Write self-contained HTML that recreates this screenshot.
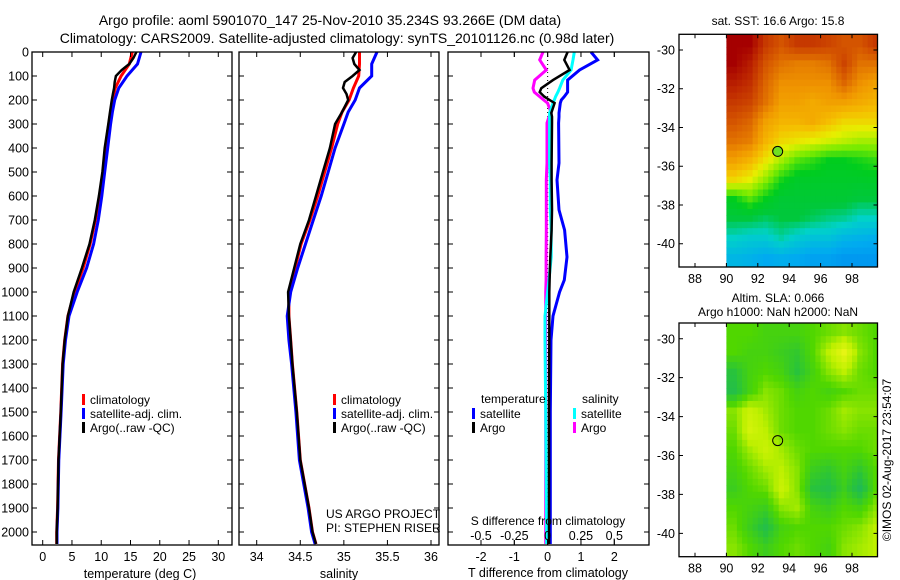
<!DOCTYPE html>
<html><head><meta charset="utf-8">
<style>
html,body{margin:0;padding:0;background:#fff;}
svg{display:block;font-family:"Liberation Sans",sans-serif;}
text{fill:#000;}
</style></head>
<body>
<svg id="chart" width="900" height="580" viewBox="0 0 900 580" xmlns="http://www.w3.org/2000/svg">
<text x="330" y="25" font-size="14" text-anchor="middle">Argo profile: aoml 5901070_147 25-Nov-2010 35.234S 93.266E (DM data)</text>
<text x="337" y="43" font-size="14" text-anchor="middle">Climatology: CARS2009. Satellite-adjusted climatology: synTS_20101126.nc (0.98d later)</text>
<g id="p1"></g>
<g id="p2"></g>
<g id="p3"></g>
<g id="m1"></g>
<g id="m2"></g>
<text transform="translate(891,460) rotate(-90)" font-size="12" text-anchor="middle">©IMOS 02-Aug-2017 23:54:07</text>
</svg>
<script>
// ---------- data ----------
const depthTicks = [0,100,200,300,400,500,600,700,800,900,1000,1100,1200,1300,1400,1500,1600,1700,1800,1900,2000];
const tempTicks = [0,5,10,15,20,25,30];
const salTicks = [34,34.5,35,35.5,36];
const salTickLabels = ["34","34.5","35","35.5","36"];
const tdiffTicks = [-2,-1,0,1,2];
const sdiffTicks = [-0.5,-0.25,0,0.25,0.5];
const sdiffTickLabels = ["-0.5","-0.25","0","0.25","0.5"];

const climDepth = [0,50,100,150,200,250,300,400,500,600,700,800,900,1000,1100,1200,1300,1500,1700,1900,2000,2050];
const climTemp  = [15.3,14.8,13.4,12.4,11.9,11.6,11.3,10.7,10.3,9.7,9.0,8.1,6.9,5.45,4.3,3.75,3.4,3.1,2.7,2.55,2.4,2.4];
const satTemp   = [16.8,16.2,14.4,13.0,12.3,11.9,11.6,11.1,10.6,10.1,9.5,8.7,7.5,5.9,4.5,3.9,3.5,3.15,2.75,2.6,2.45,2.45];
const climSal   = [35.18,35.18,35.17,35.11,35.06,34.98,34.93,34.86,34.78,34.70,34.61,34.51,34.44,34.37,34.37,34.39,34.41,34.46,34.50,34.60,34.64,34.68];
const satSal    = [35.38,35.32,35.32,35.18,35.13,35.05,35.00,34.90,34.82,34.74,34.65,34.56,34.47,34.39,34.35,34.37,34.40,34.45,34.49,34.59,34.63,34.67];

const argoDepth = [0,25,50,75,100,125,150,175,200,250,300,400,500,600,700,800,900,1000,1100,1200,1300,1500,1700,1900,2000,2050];
const argoTemp  = [16.0,15.5,14.8,13.5,12.5,12.3,12.2,12.0,11.8,11.5,11.2,10.6,10.2,9.6,8.9,8.0,6.7,5.3,4.3,3.75,3.4,3.1,2.7,2.55,2.4,2.4];
const argoSal   = [35.14,35.10,35.12,35.18,35.10,35.01,34.99,35.03,35.05,34.98,34.90,34.84,34.76,34.68,34.60,34.50,34.43,34.36,34.37,34.39,34.41,34.46,34.50,34.60,34.64,34.68];

const diffDepth = [0,33,75,117,151,167,186,200,213,254,270,296,463,533,658,742,854,950,1000,1100,1200,1500,2000,2050];
const tdiffSat  = [1.3,1.5,0.96,0.6,0.6,0.6,0.5,0.41,0.38,0.34,0.34,0.33,0.34,0.28,0.34,0.51,0.58,0.5,0.36,0.16,0.1,0.08,0.08,0.08];
const tdiffArgo = [0.6,0.5,0.66,0.16,-0.19,-0.24,-0.1,0.06,0.21,0.11,0.13,0.13,0.12,0.12,0.13,0.12,0.08,0.06,0.05,0.05,0.05,0.04,0.04,0.04];
const sdiffSat  = [0.2,0.19,0.176,0.114,0.09,0.077,0.06,0.05,0.04,0.015,0.015,0.015,0.015,0.02,0.02,0.027,0.027,0.01,0.0,-0.02,-0.02,-0.015,-0.008,-0.008];
const sdiffArgo = [-0.035,-0.06,-0.01,-0.097,-0.11,-0.1,-0.06,-0.03,0.0,0.027,0.01,-0.005,-0.005,-0.01,-0.01,-0.01,-0.012,-0.012,-0.015,-0.015,-0.015,-0.015,-0.015,-0.015];

const lonTicks = [88,90,92,94,96,98];
const latTicks = [-30,-32,-34,-36,-38,-40];
const mapLons = [90,91,92,93,94,95,96,97,98,99];
const mapLats = [-29.2,-30.2,-31.2,-32.2,-33.2,-34.2,-35.2,-36.2,-37.2,-38.2,-39.2,-40.2];
const sstGrid = [
[1.0,1.0,0.9,0.85,0.9,0.9,0.88,0.85,0.85,0.9],
[1.0,0.95,0.85,0.8,0.78,0.78,0.8,0.88,0.8,0.8],
[0.95,0.92,0.82,0.75,0.75,0.75,0.75,0.82,0.75,0.72],
[0.9,0.88,0.8,0.72,0.72,0.7,0.72,0.72,0.7,0.68],
[0.85,0.82,0.72,0.68,0.68,0.7,0.66,0.62,0.62,0.62],
[0.8,0.78,0.68,0.62,0.6,0.58,0.56,0.54,0.52,0.52],
[0.72,0.68,0.6,0.52,0.45,0.42,0.38,0.38,0.4,0.42],
[0.62,0.58,0.5,0.4,0.35,0.35,0.35,0.35,0.35,0.36],
[0.38,0.45,0.38,0.32,0.32,0.32,0.32,0.32,0.3,0.3],
[0.3,0.3,0.28,0.3,0.3,0.28,0.26,0.25,0.22,0.22],
[0.22,0.2,0.2,0.24,0.2,0.18,0.18,0.15,0.14,0.13],
[0.15,0.14,0.12,0.13,0.12,0.1,0.1,0.08,0.08,0.08]];
const slaGrid = [
[.5,.5,.45,.45,.45,.5,.55,.6,.55,.5],
[.5,.45,.45,.4,.35,.5,.7,.9,.6,.5],
[.3,.45,.5,.45,.3,.45,.6,.7,.55,.5],
[.25,.45,.6,.55,.45,.5,.45,.5,.55,.55],
[.6,.75,.65,.55,.5,.5,.55,.65,.6,.6],
[.55,.8,.7,.55,.5,.5,.55,.6,.55,.55],
[.5,.65,.75,.65,.55,.5,.5,.5,.5,.55],
[.45,.55,.65,.7,.6,.4,.35,.45,.35,.5],
[.4,.5,.55,.75,.6,.3,.25,.4,.2,.5],
[.5,.45,.4,.6,.65,.45,.4,.5,.45,.6],
[.55,.4,.25,.45,.5,.5,.5,.55,.6,.7],
[.6,.5,.4,.5,.55,.5,.45,.6,.65,.7]];
const floatLon = 93.266, floatLat = -35.234;

// ---------- helpers ----------
const NS = "http://www.w3.org/2000/svg";
function mk(parent, tag, attrs){ const e=document.createElementNS(NS,tag); for(const k in attrs) e.setAttribute(k,attrs[k]); parent.appendChild(e); return e; }
function lin(d0,d1,r0,r1){ return v => r0 + (v-d0)*(r1-r0)/(d1-d0); }
const TOP=52, BOT=545;
const yD = lin(0,2054,TOP,BOT);

function frame(g,x0,x1,y0,y1,name){
  const r=mk(g,'rect',{x:x0,y:y0,width:x1-x0,height:y1-y0,fill:'none',stroke:'#000','stroke-width':1.3});
  
  
}
function depthTicksDraw(g,x0,x1,labels){
  depthTicks.forEach(d=>{
    const y=yD(d);
    const t=mk(g,'path',{d:`M${x0},${y}h5M${x1},${y}h-5`,stroke:'#000','stroke-width':1});
    
    
    if(labels){
      const tx=mk(g,'text',{x:x0-3,y:y+4.5,'font-size':12.5,'text-anchor':'end'});
      tx.textContent=d;
      
      
    }
  });
}
function xTicksDraw(g,ticks,labels,sx,yb,yt,ly){
  ticks.forEach((v,i)=>{
    const x=sx(v);
    const t=mk(g,'path',{d:`M${x},${yb}v-5M${x},${yt}v5`,stroke:'#000','stroke-width':1});
    
    
    if(ly!==null){
      const tx=mk(g,'text',{x:x,y:ly,'font-size':12.5,'text-anchor':'middle'});
      tx.textContent=labels[i];
      
      
    }
  });
}
function line(g,xs,ds,sx,color,name,w){
  const pts=xs.map((v,i)=>`${sx(v).toFixed(1)},${yD(ds[i]).toFixed(1)}`).join(' ');
  const p=mk(g,'polyline',{points:pts,fill:'none',stroke:color,'stroke-width':w||3,'stroke-linejoin':'miter'});
  
  
}
function text(g,x,y,s,str,name,anchor){
  const t=mk(g,'text',{x:x,y:y,'font-size':s,'text-anchor':anchor||'start'});
  t.textContent=str;
  
  
  return t;
}
function legendEntry(g,x,y,color,label){
  const r=mk(g,'rect',{x:x,y:y-5,width:3,height:11,fill:color});
  
  
  text(g,x+8,y+5,12,label,'legend-entry');
}

// ---------- panel 1: temperature ----------
const g1=document.getElementById('p1');
const sT=lin(0,30,42.7,218.3);
line(g1,climTemp,climDepth,sT,'#ff0000','climatology-temp-line');
line(g1,satTemp,climDepth,sT,'#0000ff','satellite-temp-line');
line(g1,argoTemp,argoDepth,sT,'#000000','argo-temp-line',2.5);
frame(g1,32,232,TOP,BOT,'temperature-axes-frame');
depthTicksDraw(g1,32,232,true);
xTicksDraw(g1,tempTicks,tempTicks.map(String),sT,BOT,TOP,561);
text(g1,140,578,12.5,'temperature (deg C)','x-axis-title','middle');
legendEntry(g1,82,399,'#ff0000','climatology');
legendEntry(g1,82,413,'#0000ff','satellite-adj. clim.');
legendEntry(g1,82,427,'#000000','Argo(..raw -QC)');

// ---------- panel 2: salinity ----------
const g2=document.getElementById('p2');
const sS=lin(34,36,256.7,431);
line(g2,climSal,climDepth,sS,'#ff0000','climatology-salinity-line');
line(g2,satSal,climDepth,sS,'#0000ff','satellite-salinity-line');
line(g2,argoSal,argoDepth,sS,'#000000','argo-salinity-line',2.5);
frame(g2,239,439,TOP,BOT,'salinity-axes-frame');
depthTicksDraw(g2,239,439,false);
xTicksDraw(g2,salTicks,salTickLabels,sS,BOT,TOP,561);
text(g2,339,578,12.5,'salinity','x-axis-title','middle');
legendEntry(g2,333,399,'#ff0000','climatology');
legendEntry(g2,333,413,'#0000ff','satellite-adj. clim.');
legendEntry(g2,333,427,'#000000','Argo(..raw -QC)');
text(g2,326,518,12,'US ARGO PROJECT','project-label');
text(g2,326,532,12,'PI: STEPHEN RISER','pi-label');

// ---------- panel 3: differences ----------
const g3=document.getElementById('p3');
const sTd=lin(-2,2,481,614.3);
const sSd=lin(-0.5,0.5,481,614.3);
const z=mk(g3,'line',{x1:sTd(0),x2:sTd(0),y1:TOP,y2:BOT,stroke:'#000','stroke-width':1,'stroke-dasharray':'1,3'});


line(g3,sdiffArgo,diffDepth,sSd,'#ff00ff','argo-salinity-diff-line');
line(g3,tdiffSat,diffDepth,sTd,'#0000ff','satellite-temp-diff-line');
line(g3,sdiffSat,diffDepth,sSd,'#00ffff','satellite-salinity-diff-line');
line(g3,tdiffArgo,diffDepth,sTd,'#000000','argo-temp-diff-line',2.5);
frame(g3,448,649,TOP,BOT,'difference-axes-frame');
depthTicksDraw(g3,448,649,false);
xTicksDraw(g3,tdiffTicks,tdiffTicks.map(String),sTd,BOT,TOP,561);
xTicksDraw(g3,sdiffTicks,sdiffTickLabels,sSd,BOT,TOP,null);
sdiffTicks.forEach((v,i)=>{ text(g3,sSd(v),540,12.5,sdiffTickLabels[i],'s-diff-tick-label','middle'); });
text(g3,548,525,12,'S difference from climatology','s-diff-axis-title','middle');
text(g3,548,577,12.5,'T difference from climatology','x-axis-title','middle');
text(g3,481,403,12,'temperature','legend-title-temperature');
text(g3,582,403,12,'salinity','legend-title-salinity');
legendEntry(g3,472,413,'#0000ff','satellite');
legendEntry(g3,472,427,'#000000','Argo');
legendEntry(g3,573,413,'#00ffff','satellite');
legendEntry(g3,573,427,'#ff00ff','Argo');

// ---------- maps ----------
function interp(stops,v){
  v=Math.max(0,Math.min(1,v));
  for(let i=0;i<stops.length-1;i++){
    const a=stops[i],b=stops[i+1];
    if(v>=a[0]&&v<=b[0]){ const t=(v-a[0])/(b[0]-a[0]);
      return `rgb(${[1,2,3].map(k=>Math.round(a[k]+(b[k]-a[k])*t)).join(',')})`; }
  }
  return 'rgb(0,0,0)';
}
const jet=[[0,0,120,240],[0.12,0,170,240],[0.22,0,210,200],[0.3,0,200,60],[0.38,0,205,30],[0.48,120,235,0],[0.58,230,240,0],[0.66,245,190,0],[0.74,240,150,0],[0.84,215,90,0],[0.93,190,40,0],[1,165,0,0]];
const slaCm=[[0,20,170,130],[0.3,40,195,60],[0.5,80,215,0],[0.7,190,240,0],[0.9,230,245,20],[1,240,200,20]];
function sample(grid,fr,fc){
  // bilinear sample at fractional row/col (cell-center coordinates)
  const R=grid.length, C=grid[0].length;
  fr=Math.max(0,Math.min(R-1,fr)); fc=Math.max(0,Math.min(C-1,fc));
  const r0=Math.floor(fr), c0=Math.floor(fc), r1=Math.min(R-1,r0+1), c1=Math.min(C-1,c0+1);
  const tr=fr-r0, tc=fc-c0;
  const a=grid[r0][c0]*(1-tc)+grid[r0][c1]*tc, b=grid[r1][c0]*(1-tc)+grid[r1][c1]*tc;
  return a*(1-tr)+b*tr;
}
function drawMap(id,y0,y1,grid,cm,title1,title2,titleY,filled){
  const g=document.getElementById(id);
  const sx=lin(88,98,695,852);
  const sy=lin(-30,-40,y0+(y1-y0)*(0.81/12.01),y0+(y1-y0)*(10.81/12.01));
  const SUB=3;
  grid.forEach((row,ri)=>row.forEach((v,ci)=>{
    for(let a=0;a<SUB;a++) for(let b=0;b<SUB;b++){
      const lon=mapLons[ci]+b/SUB, lat=mapLats[ri]-a/SUB;
      const x=sx(lon), y=sy(lat);
      if(x>=877.5||y>=y1) continue;
      const w=Math.min(sx(lon+1/SUB),877.5)-x, h=Math.min(sy(lat-1/SUB),y1)-y;
      const val=sample(grid, ri+(a+0.5)/SUB-0.5, ci+(b+0.5)/SUB-0.5);
      const c=mk(g,'rect',{x:x.toFixed(1),y:y.toFixed(1),width:(w+0.5).toFixed(1),height:(h+0.5).toFixed(1),fill:interp(cm,val)});
      
      
    }
  }));
  frame(g,679,877.5,y0,y1,id+'-frame');
  lonTicks.forEach(v=>{
    const x=sx(v);
    const t=mk(g,'path',{d:`M${x},${y1}v-4M${x},${y0}v4`,stroke:'#000','stroke-width':1});
    
    
    text(g,x,y1+16,12.5,String(v),'lon-tick-label','middle');
  });
  latTicks.forEach(v=>{
    const y=sy(v);
    const t=mk(g,'path',{d:`M679,${y}h4M877.5,${y}h-4`,stroke:'#000','stroke-width':1});
    
    
    text(g,675,y+4.5,12.5,String(v),'lat-tick-label','end');
  });
  const ci=mk(g,'circle',{cx:sx(floatLon),cy:sy(floatLat),r:5,fill:filled?'#70e020':'none',stroke:'#000','stroke-width':1});
  
  
  text(g,778,titleY,12,title1,'map-title','middle');
  if(title2) text(g,778,titleY+14,12,title2,'map-subtitle','middle');
}
drawMap('m1',34.3,267,sstGrid,jet,'sat. SST: 16.6 Argo: 15.8',null,25,true);
drawMap('m2',323,556.7,slaGrid,slaCm,'Altim. SLA: 0.066','Argo h1000: NaN h2000: NaN',302,false);
</script>
</body></html>
